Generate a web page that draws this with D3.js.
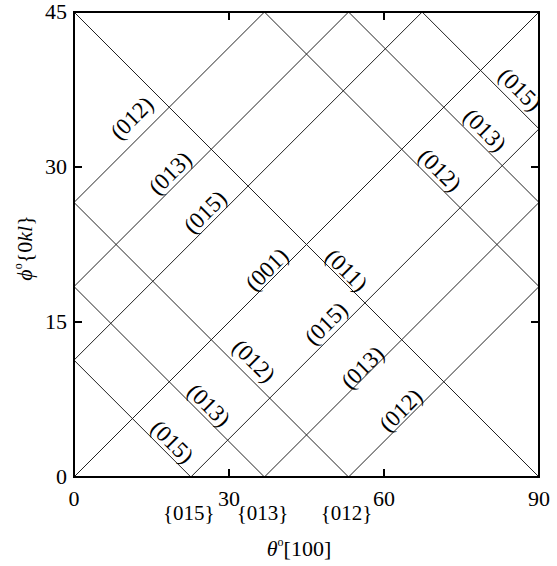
<!DOCTYPE html>
<html><head><meta charset="utf-8">
<script src="https://cdn.jsdelivr.net/npm/d3@7"></script>
<style>
body{margin:0;background:#fff}
text{font-family:"Liberation Serif","Times New Roman",Times,serif;fill:#000}
</style>
</head><body>
<svg id="chart" width="557" height="566"></svg>
<script>
// ---- data ----
const xTicks = [0, 30, 60, 90];
const yTicks = [0, 15, 30, 45];
const innerXTicks = [30, 60];
const innerYTicks = [15, 30];
// lines phi = +theta/2 + c
const ascendingIntercepts = [-26.57, -18.43, -11.31, 0, 11.31, 18.43, 26.57];
// lines phi = -theta/2 + c
const descendingIntercepts = [11.31, 18.43, 26.57, 45, 63.43, 71.57, 78.69];
// plane labels (centre positions in data coords)
const planeNames = ["(012)","(013)","(015)","(001)","(015)","(013)","(012)",
                    "(011)","(012)","(013)","(015)","(012)","(013)","(015)"];
const planeTheta = [11.17, 18.58, 25.35, 37.30, 48.77, 55.84, 63.23,
                    52.78, 34.84, 26.13, 19.03, 70.84, 79.55, 86.32];
const planePhi   = [34.75, 29.42, 25.65, 20.10, 14.87, 10.60, 6.48,
                    20.03, 11.25, 6.97, 3.42, 29.71, 33.58, 37.52];
const planeDir   = [1,1,1,1,1,1,1, -1,-1,-1,-1,-1,-1,-1];
// family labels under the axis
const familyNames = ["{015}", "{013}", "{012}"];
const familyTheta = [22.62, 36.87, 53.13];

// ---- layout ----
const svg = d3.select("#chart");
const L = 74, R = 539, T = 12, B = 477;
const x = d3.scaleLinear().domain([0, 90]).range([L, R]);
const y = d3.scaleLinear().domain([0, 45]).range([B, T]);

// lines
const segs = [];
ascendingIntercepts.forEach(c => {
  const t0 = Math.max(0, -2 * c), t1 = Math.min(90, 2 * (45 - c));
  segs.push([[t0, t0 / 2 + c], [t1, t1 / 2 + c]]);
});
descendingIntercepts.forEach(c => {
  const t0 = Math.max(0, 2 * (c - 45)), t1 = Math.min(90, 2 * c);
  segs.push([[t0, c - t0 / 2], [t1, c - t1 / 2]]);
});
svg.append("g").selectAll("line").data(segs).join("line")
  .attr("x1", d => x(d[0][0])).attr("y1", d => y(d[0][1]))
  .attr("x2", d => x(d[1][0])).attr("y2", d => y(d[1][1]))
  .attr("stroke", "#222").attr("stroke-width", 1);

// frame
svg.append("rect").attr("x", L).attr("y", T).attr("width", R - L).attr("height", B - T)
  .attr("fill", "none").attr("stroke", "#000").attr("stroke-width", 2);

// inner ticks
const tk = 8;
const tg = svg.append("g").attr("stroke", "#000").attr("stroke-width", 2);
innerXTicks.forEach(v => {
  tg.append("line").attr("x1", x(v)).attr("x2", x(v)).attr("y1", B).attr("y2", B - tk);
  tg.append("line").attr("x1", x(v)).attr("x2", x(v)).attr("y1", T).attr("y2", T + tk);
});
innerYTicks.forEach(v => {
  tg.append("line").attr("y1", y(v)).attr("y2", y(v)).attr("x1", L).attr("x2", L + tk);
  tg.append("line").attr("y1", y(v)).attr("y2", y(v)).attr("x1", R).attr("x2", R - tk);
});

// tick labels
svg.append("g").selectAll("text").data(xTicks).join("text")
  .attr("x", d => x(d)).attr("y", 506).attr("text-anchor", "middle")
  .attr("font-size", 22).text(d => d);
svg.append("g").selectAll("text").data(yTicks).join("text")
  .attr("x", 67).attr("y", d => y(d) + 7).attr("text-anchor", "end")
  .attr("font-size", 22).text(d => d);

// family labels
svg.append("g").selectAll("text").data(familyNames).join("text")
  .attr("x", (d, i) => x(familyTheta[i]) - 2).attr("y", 520).attr("text-anchor", "middle")
  .attr("font-size", 21).text(d => d);

// plane labels
const pl = svg.append("g");
planeNames.forEach((name, i) => {
  const px = x(planeTheta[i]), py = y(planePhi[i]);
  const dx = x(2) - x(0), dy = y(planeDir[i]) - y(0);
  const ang = Math.atan2(dy, dx) * 180 / Math.PI;
  pl.append("text").attr("transform", `translate(${px},${py}) rotate(${ang})`)
    .attr("text-anchor", "middle").attr("dy", "0.34em")
    .attr("font-size", 23).text(name);
});

// axis titles
const xt = svg.append("text").attr("x", 299).attr("y", 556).attr("text-anchor", "middle").attr("font-size", 22);
xt.append("tspan").attr("font-style", "italic").text("θ");
xt.append("tspan").attr("font-size", 12).attr("dy", -10).text("o");
xt.append("tspan").attr("dy", 10).text("[100]");

const yt = svg.append("text").attr("transform", "translate(32,248) rotate(-90)")
  .attr("text-anchor", "middle").attr("font-size", 22);
yt.append("tspan").attr("font-style", "italic").text("ϕ");
yt.append("tspan").attr("font-size", 12).attr("dy", -10).text("o");
yt.append("tspan").attr("dy", 10).text("{0");
yt.append("tspan").attr("font-style", "italic").text("kl");
yt.append("tspan").text("}");
</script>
</body></html>
